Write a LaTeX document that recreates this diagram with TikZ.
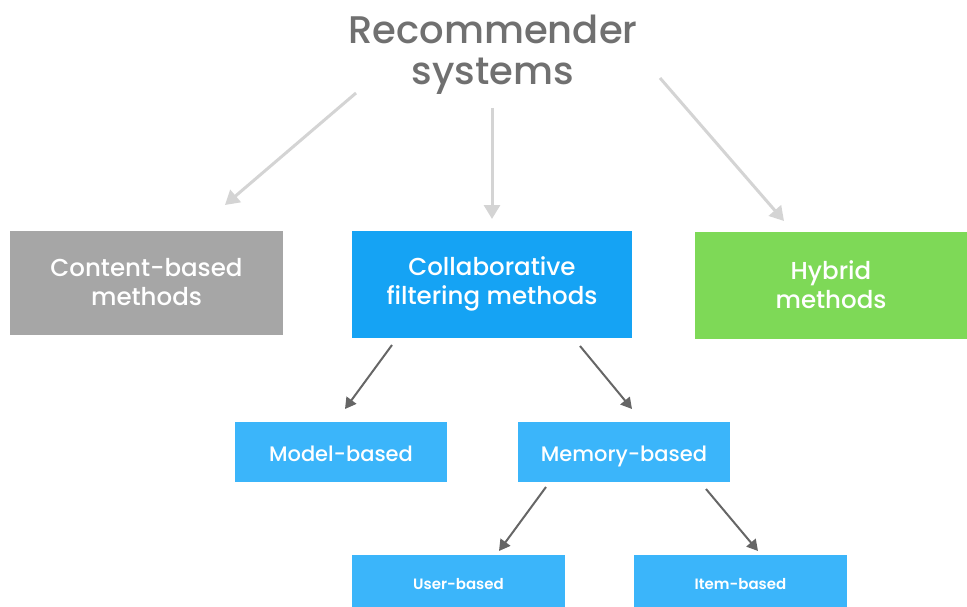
\documentclass[tikz,border=0pt]{standalone}
\usepackage{fontspec}
\setmainfont{Poppins}[UprightFont=* Medium, BoldFont=* SemiBold]
\usetikzlibrary{arrows.meta}
\definecolor{titlegray}{HTML}{707070}
\definecolor{boxgray}{HTML}{A6A6A6}
\definecolor{boxblue}{HTML}{15A3F4}
\definecolor{boxgreen}{HTML}{7ED957}
\definecolor{lightblue}{HTML}{3BB5FA}
\definecolor{lightarrow}{HTML}{D4D4D4}
\definecolor{darkarrow}{HTML}{666666}
\tikzset{
  bigbox/.style={text=white, inner sep=0pt, align=center, font=\fontsize{24.5}{29}\selectfont},
  smallbox/.style={fill=lightblue, text=white, inner sep=0pt, align=center, minimum width=212pt, minimum height=60pt, text height=21pt, text depth=2pt, font=\fontsize{21}{25}\selectfont},
  tinybox/.style={fill=lightblue, text=white, inner sep=0pt, align=center, minimum width=213pt, minimum height=60pt, text height=11pt, text depth=3pt, font=\bfseries\fontsize{15}{18}\selectfont},
  lightarr/.style={draw=lightarrow, line width=3pt, -{Triangle[length=14pt,width=16pt]}},
  darkarr/.style={draw=darkarrow, line width=2pt, -{Triangle[length=11pt,width=12pt]}}
}
\begin{document}
\begin{tikzpicture}[x=1pt,y=-1pt]
\useasboundingbox (0,0) rectangle (967,607);
\node[text=titlegray, align=center, font=\fontsize{38.5}{41}\selectfont] (title) at (493,55) {Recommender\\systems};
\node[bigbox, fill=boxgray, minimum width=273pt, minimum height=104pt] (cb) at (146.5,282.5) {Content-based\\methods};
\node[bigbox, fill=boxblue, minimum width=280pt, minimum height=107pt] (cf) at (492,284) {Collaborative\\filtering methods};
\node[bigbox, fill=boxgreen, minimum width=272pt, minimum height=107pt] (hy) at (831,285) {Hybrid\\methods};
\node[smallbox] (mb) at (341,452) {Model-based};
\node[smallbox] (memb) at (624,452) {Memory-based};
\node[tinybox] (ub) at (458.5,585) {User-based};
\node[tinybox] (ib) at (740.5,585) {Item-based};
\coordinate (a1s) at (356,93);  \coordinate (a1e) at (225,205);
\coordinate (a2s) at (492,108); \coordinate (a2e) at (492,219);
\coordinate (a3s) at (660,78);  \coordinate (a3e) at (784,221);
\coordinate (b1s) at (392,345); \coordinate (b1e) at (345,409);
\coordinate (b2s) at (580,346); \coordinate (b2e) at (632,409);
\coordinate (c1s) at (546,487); \coordinate (c1e) at (499,551);
\coordinate (c2s) at (706,489); \coordinate (c2e) at (758,551);
\draw[lightarr] (a1s) -- (a1e);
\draw[lightarr] (a2s) -- (a2e);
\draw[lightarr] (a3s) -- (a3e);
\draw[darkarr] (b1s) -- (b1e);
\draw[darkarr] (b2s) -- (b2e);
\draw[darkarr] (c1s) -- (c1e);
\draw[darkarr] (c2s) -- (c2e);
\end{tikzpicture}
\end{document}
